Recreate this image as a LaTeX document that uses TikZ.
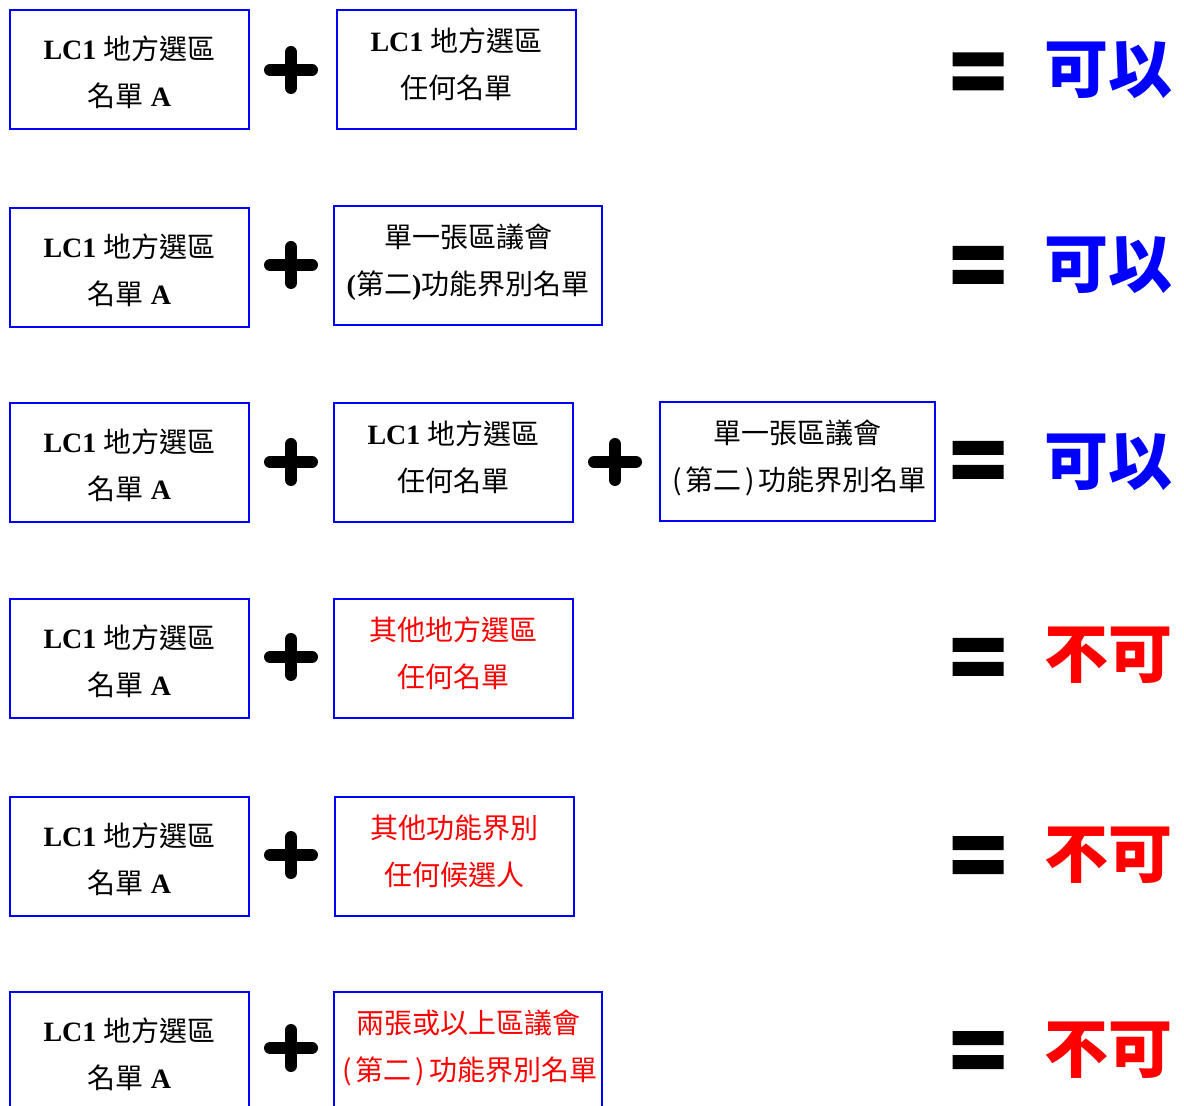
\documentclass[tikz,border=0pt]{standalone}
\usepackage{fontspec}
\setmainfont{Liberation Serif}
\newfontfamily\cjk{Noto Sans CJK TC}
\usetikzlibrary{positioning}

\tikzset{
  listbox/.style={draw=blue, line width=1pt, minimum width=119.5pt, minimum height=59.5pt,
    align=center, inner sep=0pt, text height=28.6pt, text depth=0pt, font=\fontsize{14}{23.5}\selectfont},
  leftbox/.style={listbox, text height=37.1pt},
  widebox/.style={listbox, minimum width=134pt},
  plusbar/.style={line width=6pt, line cap=round},
  okword/.style={blue, inner sep=0pt, font=\cjk\bfseries\fontsize{32}{32}\selectfont},
  badword/.style={red, inner sep=0pt, font=\cjk\bfseries\fontsize{32}{32}\selectfont}
}
\newcommand{\plussign}[1]{\draw[plusbar] ([xshift=-10.5pt]#1) -- ([xshift=10.5pt]#1) ([yshift=-9pt]#1) -- ([yshift=9pt]#1);}
\newcommand{\equalsign}[1]{\fill ([xshift=-12.75pt,yshift=9.5pt]#1) rectangle ([xshift=12.75pt,yshift=2.5pt]#1)
  ([xshift=-12.75pt,yshift=-2.5pt]#1) rectangle ([xshift=12.75pt,yshift=-9.5pt]#1);}
\newcommand{\lcA}{{\bfseries LC1} {\cjk 地方選區}\\{\cjk 名單} {\bfseries A}}
\newcommand{\fcline}{{\cjk\kern2pt(\kern2pt第二\kern2pt)\kern2pt功能界別名單}}

\begin{document}
\begin{tikzpicture}[x=0.5pt, y=-0.5pt]
\useasboundingbox (0,0) rectangle (1184,1106);
\clip (0,0) rectangle (1184,1106);

% row 1
\node[leftbox] (a1) at (129.5,69.5) {\lcA};
\node[listbox] (b1) at (456.5,69.5) {{\bfseries LC1} {\cjk 地方選區}\\{\cjk 任何名單}};
\coordinate (p1) at (291,70); \plussign{p1}
\coordinate (e1) at (978,71.5); \equalsign{e1}
\node[okword] (r1) at (1108,70) {可以};

% row 2
\node[leftbox] (a2) at (129.5,267.5) {\lcA};
\node[widebox] (b2) at (468,265.5) {{\cjk 單一張區議會}\\{\bfseries(}{\cjk 第二}{\bfseries)}{\cjk 功能界別名單}};
\coordinate (p2) at (291,265); \plussign{p2}
\coordinate (e2) at (978,265); \equalsign{e2}
\node[okword] (r2) at (1108,265) {可以};

% row 3
\node[leftbox] (a3) at (129.5,462.5) {\lcA};
\node[listbox] (b3) at (453.5,462.5) {{\bfseries LC1} {\cjk 地方選區}\\{\cjk 任何名單}};
\node[listbox, minimum width=137.5pt] (c3) at (797.5,461.5) {{\cjk 單一張區議會}\\\fcline};
\coordinate (p3) at (291,462); \plussign{p3}
\coordinate (q3) at (615,462); \plussign{q3}
\coordinate (e3) at (978,460); \equalsign{e3}
\node[okword] (r3) at (1108,462) {可以};

% row 4
\node[leftbox] (a4) at (129.5,658.5) {\lcA};
\node[listbox, text=red] (b4) at (453.5,658.5) {{\cjk 其他地方選區}\\{\cjk 任何名單}};
\coordinate (p4) at (291,657); \plussign{p4}
\coordinate (e4) at (978,657); \equalsign{e4}
\node[badword] (r4) at (1108,655) {不可};

% row 5
\node[leftbox] (a5) at (129.5,856.5) {\lcA};
\node[listbox, text=red] (b5) at (454,856.5) {{\cjk 其他功能界別}\\{\cjk 任何候選人}};
\coordinate (p5) at (291,855); \plussign{p5}
\coordinate (e5) at (978,855); \equalsign{e5}
\node[badword] (r5) at (1108,855) {不可};

% row 6
\node[leftbox] (a6) at (129.5,1051.5) {\lcA};
\node[widebox, text=red] (b6) at (468,1051.5) {{\cjk 兩張或以上區議會}\\\fcline};
\coordinate (p6) at (291,1048); \plussign{p6}
\coordinate (e6) at (978,1050); \equalsign{e6}
\node[badword] (r6) at (1108,1050) {不可};

\end{tikzpicture}
\end{document}
